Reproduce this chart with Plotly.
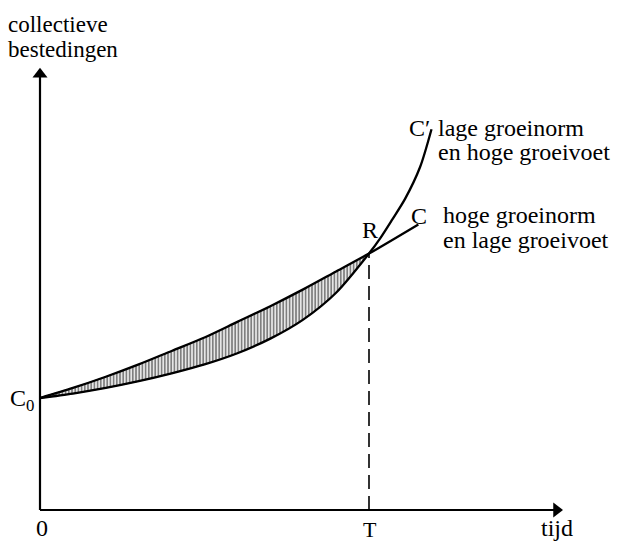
import plotly.graph_objects as go

# ---- data (arbitrary units) ----
# time axis: origin 0, T = 10 ; values: C0 = 100
t_C = [0, 1, 2, 3, 4, 5, 6, 7, 8, 9, 10, 11.5]
C_vals = [100, 109, 119, 130, 142, 154, 168, 182, 197, 213, 229, 255]

t_Cp = [0, 1, 2, 3, 4, 5, 6, 7, 8, 9, 10, 10.35, 10.7, 11.1, 11.55, 11.9]
Cp_vals = [100, 104, 109, 115, 122, 130, 140, 153, 170, 194, 229, 243, 259, 278, 306, 340]

T = 10
R_val = 229
x_axis_end = 15.9
y_axis_end = 394.6

W, H = 620, 543
FONT = "Liberation Serif"

def px(x):
    return x / W

def py(y):
    return 1 - y / H

fig = go.Figure()

# hatched area between the two curves, up to T
up_t = [t for t in t_C if t <= T]
up_v = [v for t, v in zip(t_C, C_vals) if t <= T]
lo_t = [t for t in t_Cp if t <= T]
lo_v = [v for t, v in zip(t_Cp, Cp_vals) if t <= T]
fig.add_trace(go.Scatter(
    x=up_t + lo_t[::-1], y=up_v + lo_v[::-1],
    mode="lines", fill="toself", fillcolor="white",
    fillpattern=dict(shape="|", size=3.2, solidity=0.6, fgcolor="black", bgcolor="white"),
    line=dict(width=1, color="black", shape="spline", smoothing=0.6),
    hoverinfo="skip", showlegend=False))

# curves
for tt, vv in [(t_C, C_vals), (t_Cp, Cp_vals)]:
    fig.add_trace(go.Scatter(x=tt, y=vv, mode="lines",
                             line=dict(color="black", width=2.3, shape="spline", smoothing=0.8),
                             hoverinfo="skip", showlegend=False))

# dashed line at T
fig.add_trace(go.Scatter(x=[T, T], y=[0, R_val], mode="lines",
                         line=dict(color="black", width=1.6, dash="14px,7px"),
                         hoverinfo="skip", showlegend=False))

# axes with arrowheads
fig.add_trace(go.Scatter(x=[0, x_axis_end - 0.2], y=[0, 0], mode="lines",
                         line=dict(color="black", width=2.2), hoverinfo="skip", showlegend=False))
fig.add_trace(go.Scatter(x=[0, 0], y=[0, y_axis_end - 5], mode="lines",
                         line=dict(color="black", width=2.2), hoverinfo="skip", showlegend=False))
fig.add_trace(go.Scatter(x=[x_axis_end - 0.2], y=[0], mode="markers",
                         marker=dict(symbol="triangle-right", size=13, color="black",
                                     line=dict(width=0)),
                         hoverinfo="skip", showlegend=False))
fig.add_trace(go.Scatter(x=[0], y=[y_axis_end - 5.5], mode="markers",
                         marker=dict(symbol="triangle-up", size=13, color="black",
                                     line=dict(width=0)),
                         hoverinfo="skip", showlegend=False))

ann = []

def label(text, x, y, xanchor="left", size=24):
    ann.append(dict(x=px(x), y=py(y), xref="paper", yref="paper", text=text,
                    showarrow=False, xanchor=xanchor, yanchor="middle",
                    font=dict(family=FONT, size=size, color="black")))

label("collectieve", 6, 25, size=23)
label("bestedingen", 6, 50, size=23)
label("C<sub>0</sub>", 36, 400, xanchor="right")
label("0", 42, 528, xanchor="center")
label("T", 370, 529, xanchor="center", size=22)
label("tijd", 557, 528, xanchor="center")
label("R", 370, 230, xanchor="center")
label("C\u2032", 420, 128, xanchor="center")
label("lage groeinorm", 436, 128)
label("en hoge groeivoet", 436, 152)
label("C", 419, 216, xanchor="center")
label("hoge groeinorm", 441, 215)
label("en lage groeivoet", 441, 240)

fig.update_layout(
    width=W, height=H, autosize=False,
    margin=dict(l=0, r=0, t=0, b=0),
    paper_bgcolor="white", plot_bgcolor="white",
    xaxis=dict(range=[-40 / 32.9, 580 / 32.9], visible=False, domain=[0, 1]),
    yaxis=dict(range=[(510 - 543) / 1.12, 510 / 1.12], visible=False, domain=[0, 1]),
    annotations=ann,
)

fig.write_html("out.html", config={"displayModeBar": False},
               post_script="document.body.style.margin='0';")
